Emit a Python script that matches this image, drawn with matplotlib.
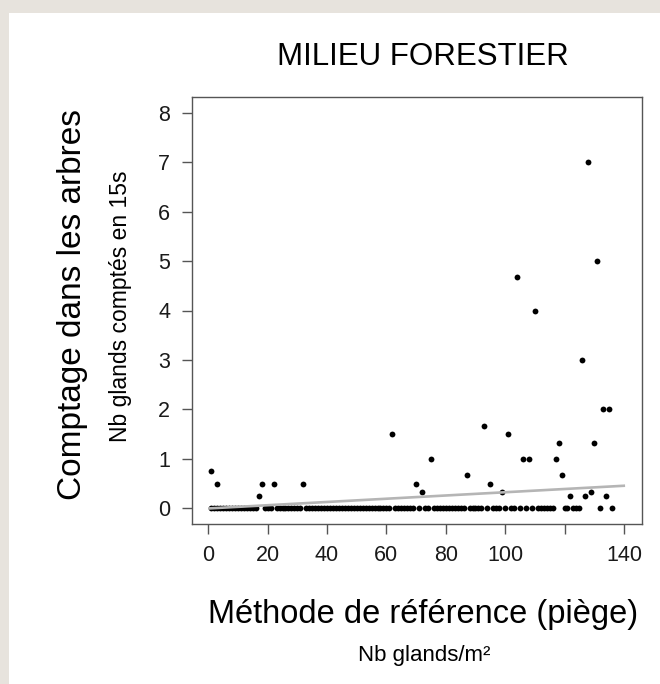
import matplotlib
matplotlib.use("Agg")
import matplotlib.pyplot as plt
from matplotlib.patches import Rectangle

plt.rcParams['font.family'] = ['Liberation Sans', 'DejaVu Sans']

# stations with at least one acorn counted
pos_x = [1, 3, 17, 18, 22, 32, 62, 70, 72, 75, 87, 93, 95, 99, 101, 104,
         106, 108, 110, 117, 118, 119, 122, 126, 127, 128, 129, 130, 131,
         133, 134, 135]
pos_y = [0.75, 0.5, 0.25, 0.5, 0.5, 0.5, 1.5, 0.5, 0.33, 1.0, 0.67, 1.67,
         0.5, 0.33, 1.5, 4.67, 1.0, 1.0, 4.0, 1.0, 1.33, 0.67, 0.25, 3.0,
         0.25, 7.0, 0.33, 1.33, 5.0, 2.0, 0.25, 2.0]

# stations where nothing was counted in the trees
zero_x = [1, 2, 3, 4, 5, 6, 7, 8, 9, 10, 11, 12, 13, 14, 15, 16,
          19, 20, 21,
          23, 24, 25, 26, 27, 28, 29, 30, 31,
          33, 34, 35, 36, 37, 38, 39, 40, 41, 42, 43, 44, 45, 46, 47, 48,
          49, 50, 51, 52, 53, 54, 55, 56, 57, 58, 59, 60, 61,
          63, 64, 65, 66, 67, 68, 69, 71, 73, 74,
          76, 77, 78, 79, 80, 81, 82, 83, 84, 85, 86,
          88, 89, 90, 91, 92, 94, 96, 97, 98, 100, 102, 103, 105, 107, 109,
          111, 112, 113, 114, 115, 116, 120, 121, 123, 124, 125, 132, 136]

# linear fit
fit_x = [0, 140.4]
fit_y = [0.0, 0.46]

xticks = [0, 20, 40, 60, 80, 100, 120, 140]
xtick_labels = ['0', '20', '40', '60', '80', '100', '', '140']
yticks = [0, 1, 2, 3, 4, 5, 6, 7, 8]

W, H = 660, 684
fig = plt.figure(figsize=(W / 100, H / 100), dpi=100)
fig.patch.set_facecolor('#e7e3dd')
fig.patches.append(Rectangle((9 / W, 0), 1, 1 - 13 / H, transform=fig.transFigure,
                             facecolor='white', edgecolor='none', zorder=-10))

ax = fig.add_axes([191.7 / W, 1 - 524.3 / H, 450 / W, 427.6 / H])
ax.set_zorder(1)
ax.set_facecolor('white')

ax.plot(zero_x, [0] * len(zero_x), 'o', color='black', ms=4.2, mew=0, zorder=2)
ax.plot(pos_x, pos_y, 'o', color='black', ms=4.2, mew=0, zorder=2)
ax.plot(fit_x, fit_y, color='#b5b5b5', lw=1.9, zorder=3, solid_capstyle='butt')

ax.set_xlim(-5.6, 146)
ax.set_ylim(-0.32, 8.32)
ax.set_xticks(xticks)
ax.set_xticklabels(xtick_labels)
ax.set_yticks(yticks)
for s in ax.spines.values():
    s.set_color('#555555')
    s.set_linewidth(1.0)
ax.tick_params(direction='out', length=7.2, width=1.0, color='#555555',
               labelsize=15.5, labelcolor='#1a1a1a', pad=7.5)
ax.tick_params(axis='y', pad=8.4)

fig.text(423 / W, 1 - 57 / H, 'MILIEU FORESTIER', fontsize=22.5,
         ha='center', va='center')
fig.text(73 / W, 1 - 304 / H, 'Comptage dans les arbres', fontsize=24,
         rotation=90, ha='center', va='center')
fig.text(121 / W, 1 - 306 / H, 'Nb glands comptés en 15s', fontsize=16.5,
         rotation=90, ha='center', va='center')
fig.text(423 / W, 1 - 614 / H, 'Méthode de référence (piège)', fontsize=23.5,
         ha='center', va='center')
fig.text(424 / W, 1 - 655 / H, 'Nb glands/m²', fontsize=16,
         ha='center', va='center')

fig.savefig('out.png', dpi=100, facecolor=fig.get_facecolor())
